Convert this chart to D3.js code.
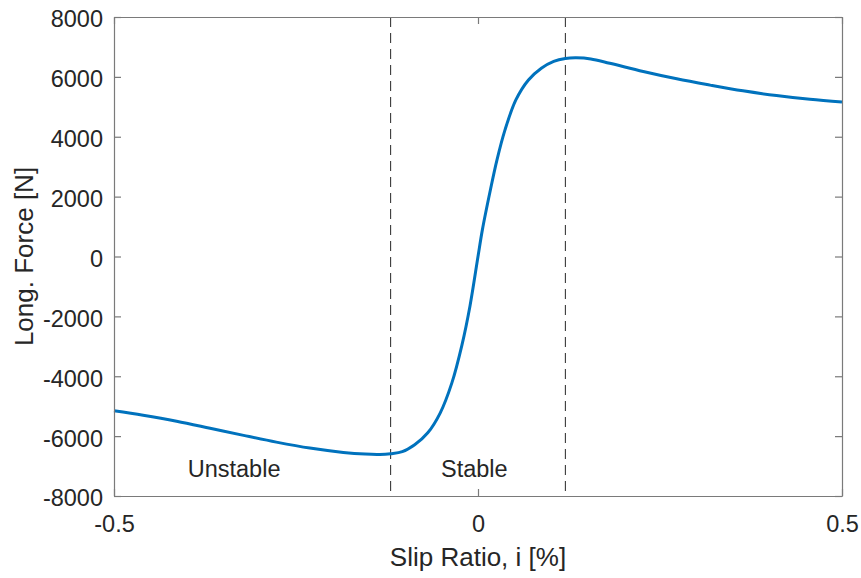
<!DOCTYPE html>
<html>
<head>
<meta charset="utf-8">
<script src="https://cdn.jsdelivr.net/npm/d3@7"></script>
<style>
  html, body { margin: 0; padding: 0; background: #fff; }
  svg { display: block; }
  text { font-family: "Liberation Sans", Arial, Helvetica, sans-serif; fill: #262626; }
</style>
</head>
<body>
<svg id="chart" width="861" height="578"></svg>
<script>
// ---- data ----
const slip = [-0.5, -0.46, -0.414, -0.368, -0.322, -0.277, -0.231, -0.185, -0.155, -0.135, -0.12, -0.104, -0.087, -0.069, -0.052, -0.036, -0.022, -0.011, 0, 0.006, 0.017, 0.026, 0.037, 0.052, 0.069, 0.087, 0.104, 0.12, 0.135, 0.155, 0.181, 0.227, 0.273, 0.319, 0.364, 0.41, 0.456, 0.5];
const force = [-5150, -5300, -5500, -5735, -5975, -6200, -6400, -6545, -6600, -6610, -6585, -6520, -6290, -5890, -5230, -4230, -2950, -1650, 0, 890, 2220, 3220, 4220, 5230, 5890, 6290, 6520, 6615, 6635, 6600, 6455, 6180, 5935, 5725, 5535, 5375, 5250, 5160];
const xTicks = [-0.5, 0, 0.5];
const xTickLabels = ["-0.5", "0", "0.5"];
const yTicks = [-8000, -6000, -4000, -2000, 0, 2000, 4000, 6000, 8000];
const boundaries = [-0.12, 0.12];
const regionLabels = ["Unstable", "Stable"];
const regionX = [-0.335, -0.005];
const regionY = -7350;
const xLabel = "Slip Ratio, i [%]";
const yLabel = "Long. Force [N]";

// ---- layout ----
const L = 114, R = 842, T = 17, B = 496;
const svg = d3.select("#chart");
const x = d3.scaleLinear().domain([-0.5, 0.5]).range([L, R]);
const y = d3.scaleLinear().domain([-8000, 8000]).range([B, T]);
const axisColor = "#7a7a7a";
const tickLen = 7;

// boundary dashed lines
svg.append("g").selectAll("line").data(boundaries).join("line")
  .attr("x1", d => x(d)).attr("x2", d => x(d))
  .attr("y1", T).attr("y2", B)
  .attr("stroke", "#262626").attr("stroke-width", 1)
  .attr("stroke-dasharray", "10,6");

// curve
const pts = slip.map((s, i) => [s, force[i]]);
svg.append("path").datum(pts)
  .attr("fill", "none").attr("stroke", "#0072BD").attr("stroke-width", 3)
  .attr("stroke-linejoin", "round")
  .attr("d", d3.line().x(d => x(d[0])).y(d => y(d[1])).curve(d3.curveCatmullRom.alpha(0.5)));

// axes (box with inward ticks)
const fontSize = 23.5;
const gBottom = svg.append("g").attr("transform", `translate(0,${B})`)
  .call(d3.axisBottom(x).tickValues(xTicks).tickFormat((d, i) => xTickLabels[i]).tickSizeInner(-tickLen).tickSizeOuter(0).tickPadding(19));
const gTop = svg.append("g").attr("transform", `translate(0,${T})`)
  .call(d3.axisTop(x).tickValues(xTicks).tickFormat("").tickSizeInner(-tickLen).tickSizeOuter(0));
const gLeft = svg.append("g").attr("transform", `translate(${L},0)`)
  .call(d3.axisLeft(y).tickValues(yTicks).tickFormat(d => String(d)).tickSizeInner(-tickLen).tickSizeOuter(0).tickPadding(11));
const gRight = svg.append("g").attr("transform", `translate(${R},0)`)
  .call(d3.axisRight(y).tickValues(yTicks).tickFormat("").tickSizeInner(-tickLen).tickSizeOuter(0));

[gBottom, gTop, gLeft, gRight].forEach(g => {
  g.select(".domain").attr("stroke", axisColor).attr("stroke-width", 1.2);
  g.selectAll(".tick line").attr("stroke", axisColor).attr("stroke-width", 1.2);
  g.selectAll("text").attr("font-size", fontSize).attr("fill", "#262626")
    .attr("font-family", "'Liberation Sans', Arial, sans-serif");
});
gLeft.selectAll(".tick text").attr("dy", "0.42em");
gBottom.selectAll(".tick text").attr("dy", "0.71em");

// region labels
svg.append("g").selectAll("text").data(regionLabels).join("text")
  .attr("x", (d, i) => x(regionX[i])).attr("y", y(regionY))
  .attr("text-anchor", "middle").attr("font-size", fontSize)
  .attr("fill", "#000")
  .text(d => d);

// axis labels
svg.append("text").attr("x", (L + R) / 2).attr("y", 566)
  .attr("text-anchor", "middle").attr("font-size", 26).text(xLabel);
svg.append("text").attr("transform", `translate(33,${(T + B) / 2}) rotate(-90)`)
  .attr("text-anchor", "middle").attr("font-size", 26).text(yLabel);
</script>
</body>
</html>
